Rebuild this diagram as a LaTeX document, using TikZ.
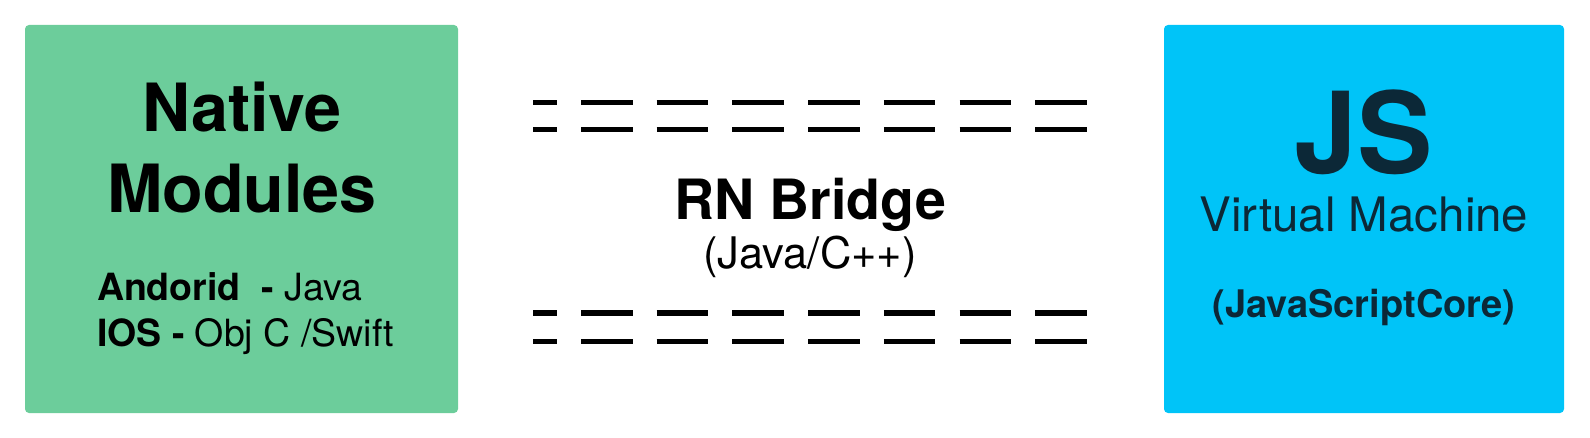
\documentclass[tikz,border=0pt]{standalone}
\usepackage{fontspec}
\setmainfont{TeX Gyre Heros}
\definecolor{natgreen}{RGB}{108,205,155}
\definecolor{jsblue}{RGB}{0,196,248}
\definecolor{jstext}{RGB}{12,40,55}
\begin{document}
\begin{tikzpicture}[x=1pt,y=-1pt,
  every node/.style={inner sep=0pt, outer sep=0pt},
  panel/.style={rounded corners=4pt, minimum width=#1, minimum height=388pt, anchor=north west},
  dashbar/.style={line width=5pt, black, line cap=butt},
  lbl/.style={anchor=base, font={\fontsize{#1}{#1}\selectfont}},
  blbl/.style={anchor=base, font={\fontsize{#1}{#1}\selectfont\bfseries}}]
\useasboundingbox (0,0) rectangle (1590,438);
% panels
\node[panel=433pt, fill=natgreen] (native) at (25,25) {};
\node[panel=400pt, fill=jsblue] (jsvm) at (1164,25) {};
% left texts
\node[blbl=66.5] (nat1) at (242,132) {Native};
\node[blbl=66.5] (nat2) at (242,213) {Modules};
\node[anchor=base west, font={\fontsize{37.5}{37.5}\selectfont}] (andr) at (97,301) {\textbf{Andorid\ \ -} Java};
\node[anchor=base west, font={\fontsize{37.5}{37.5}\selectfont}] (ios) at (97,346) {\textbf{IOS -} Obj C /Swift};
% right texts
\node[blbl=113, text=jstext] (js) at (1364,174) {JS};
\node[lbl=47.5, text=jstext] (vm) at (1364,232) {Virtual Machine};
\node[blbl=38, text=jstext] (jsc) at (1364,317) {(JavaScriptCore)};
% middle texts
\node[blbl=55.5] (rn) at (810,220) {RN Bridge};
\node[lbl=43.5] (rnlang) at (810,269) {(Java/C++)};
% dashed bars
\foreach \y in {103,130,313,341}{
  \draw[dashbar] (533,\y) -- (557,\y);
  \foreach \i in {0,...,6}{
    \draw[dashbar] ({581+75.7*\i},\y) -- ({632.5+75.7*\i},\y);
  }
}
\end{tikzpicture}
\end{document}
